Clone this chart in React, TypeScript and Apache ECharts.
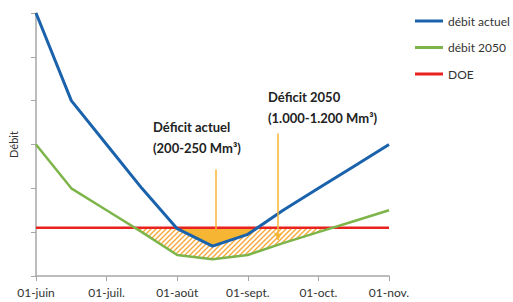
import React, { useEffect, useRef } from "react";
import * as echarts from "echarts";

const categories = ["01-juin", "15-juin", "01-juil.", "15-juil.", "01-août", "15-août", "01-sept.", "15-sept.", "01-oct.", "15-oct.", "01-nov."];
const debitActuel = [6, 4, 3, 2, 1.08, 0.68, 0.95, 1.5, 2.0, 2.5, 3.0];
const debit2050 = [3, 2, 1.5, 1.0, 0.48, 0.38, 0.48, 0.75, 1.0, 1.25, 1.5];
const doeValue = 1.1;
const doe = categories.map(() => doeValue);
const seriesNames = ["débit actuel", "débit 2050", "DOE"];
const arrowActuel = [[5.1, 2.43], [5.1, 0.86]];
const arrow2050 = [[6.86, 3.25], [6.86, 0.82]];

const FONT = "Lato";

function deficitPolygon(values: number[], ref: number): number[][] {
  const pts: number[][] = [];
  for (let i = 0; i < values.length; i++) {
    const v = values[i];
    if (i > 0) {
      const p = values[i - 1];
      if ((p - ref) * (v - ref) < 0) {
        const t = (ref - p) / (v - p);
        pts.push([i - 1 + t, ref]);
      }
    }
    if (v < ref) pts.push([i, v]);
  }
  return pts;
}

function makeHatch() {
  const s = 5;
  const c = document.createElement("canvas");
  c.width = s;
  c.height = s;
  const ctx = c.getContext("2d")!;
  ctx.fillStyle = "#ffffff";
  ctx.fillRect(0, 0, s, s);
  ctx.strokeStyle = "#F6A93A";
  ctx.lineWidth = 1.4;
  ctx.beginPath();
  ctx.moveTo(-1, s + 1);
  ctx.lineTo(s + 1, -1);
  ctx.moveTo(-1, 1);
  ctx.lineTo(1, -1);
  ctx.moveTo(s - 1, s + 1);
  ctx.lineTo(s + 1, s - 1);
  ctx.stroke();
  return c;
}

export default function App() {
  const ref = useRef<HTMLDivElement>(null);
  useEffect(() => {
    if (!ref.current) return;
    const chart = echarts.init(ref.current, null, { renderer: "svg" });
    const hatch = makeHatch();
    const greenPoly = deficitPolygon(debit2050, doeValue);
    const bluePoly = deficitPolygon(debitActuel, doeValue);
    const xData = (arr: number[]) => arr.map((v, i) => [i, v]);

    chart.setOption({
      animation: false,
      backgroundColor: "#ffffff",
      textStyle: { fontFamily: FONT },
      grid: { left: 35, right: 124, top: 13, bottom: 26, containLabel: false },
      legend: {
        orient: "vertical",
        left: 410,
        top: 9,
        icon: "rect",
        itemWidth: 28,
        itemHeight: 3,
        itemGap: 12.5,
        textStyle: { fontFamily: FONT, fontSize: 12, color: "#333", lineHeight: 14 },
        data: seriesNames,
      },
      xAxis: {
        type: "value",
        min: 0,
        max: categories.length - 1,
        interval: 2,
        axisLine: { lineStyle: { color: "#A6A6A6", width: 1.5 } },
        axisTick: { show: true, length: 5, lineStyle: { color: "#A6A6A6" } },
        splitLine: { show: false },
        axisLabel: {
          margin: 10,
          fontFamily: FONT,
          fontSize: 12,
          color: "#333",
          formatter: (v: number) => categories[Math.round(v)] ?? "",
        },
      },
      yAxis: {
        type: "value",
        min: 0,
        max: 6,
        interval: 1,
        name: "Débit",
        nameLocation: "middle",
        nameRotate: 90,
        nameGap: 17,
        nameTextStyle: { fontFamily: FONT, fontSize: 11, color: "#333" },
        axisLine: { show: true, lineStyle: { color: "#A6A6A6", width: 1.5 } },
        axisTick: { show: true, length: 5, lineStyle: { color: "#A6A6A6" } },
        axisLabel: { show: false },
        splitLine: { show: false },
      },
      series: [
        {
          type: "custom",
          silent: true,
          z: 1,
          data: [[0, 0]],
          renderItem: (_params: any, api: any) => {
            const g = greenPoly.map((p) => api.coord(p));
            const b = bluePoly.map((p) => api.coord(p));
            return {
              type: "group",
              children: [
                {
                  type: "polygon",
                  shape: { points: g },
                  style: { fill: { image: hatch, repeat: "repeat", imageWidth: 5, imageHeight: 5 }, stroke: "none" },
                },
                {
                  type: "polygon",
                  shape: { points: b },
                  style: { fill: "#F7B534", stroke: "none" },
                },
              ],
            };
          },
        },
        {
          name: seriesNames[0],
          type: "line",
          data: xData(debitActuel),
          symbol: "none",
          z: 4,
          lineStyle: { color: "#1A63AC", width: 3 },
          itemStyle: { color: "#1A63AC" },
        },
        {
          name: seriesNames[1],
          type: "line",
          data: xData(debit2050),
          symbol: "none",
          z: 3,
          lineStyle: { color: "#7DB54A", width: 2.5 },
          itemStyle: { color: "#7DB54A" },
        },
        {
          name: seriesNames[2],
          type: "line",
          data: xData(doe),
          symbol: "none",
          z: 2,
          lineStyle: { color: "#E8231F", width: 2.5 },
          itemStyle: { color: "#E8231F" },
          markLine: {
            silent: true,
            symbol: ["none", "arrow"],
            symbolSize: [7, 8],
            label: { show: false },
            lineStyle: { color: "#F7B534", width: 1.5, type: "solid" },
            data: [
              [{ coord: arrowActuel[0] }, { coord: arrowActuel[1] }],
              [{ coord: arrow2050[0] }, { coord: arrow2050[1] }],
            ],
          },
        },
      ],
      graphic: [
        {
          type: "text",
          left: 153,
          top: 116,
          style: {
            text: "Déficit actuel\n(200-250 Mm³)",
            font: `bold 13px ${FONT}`,
            lineHeight: 21,
            fill: "#222",
          },
        },
        {
          type: "text",
          left: 268,
          top: 86,
          style: {
            text: "Déficit 2050\n(1.000-1.200 Mm³)",
            font: `bold 13px ${FONT}`,
            lineHeight: 21,
            fill: "#222",
          },
        },
      ],
    });
    return () => chart.dispose();
  }, []);
  return <div ref={ref} style={{ width: 513, height: 302, position: "absolute", left: 0, top: 0 }} />;
}
